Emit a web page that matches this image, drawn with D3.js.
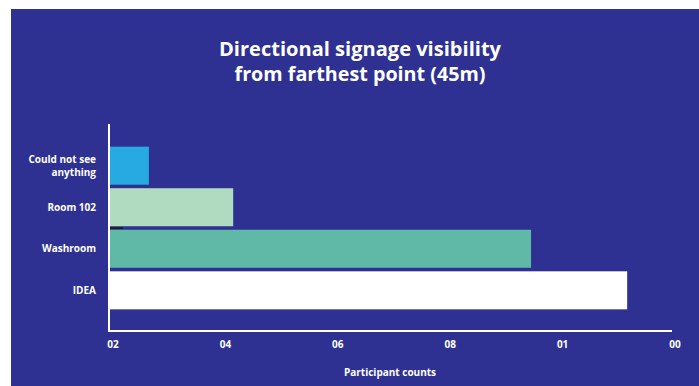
<!DOCTYPE html>
<html>
<head>
<meta charset="utf-8">
<script src="https://cdn.jsdelivr.net/npm/d3@7"></script>
<style>
  html, body { margin: 0; padding: 0; background: #ffffff; }
  svg { display: block; }
  text { font-family: "Open Sans", "Lato", sans-serif; font-weight: 700; fill: #ffffff; }
</style>
</head>
<body>
<svg id="chart" width="699" height="386"></svg>
<script>
// Survey answers, top to bottom
const categories = ["Could not see anything", "Room 102", "Washroom", "IDEA"];
const labelLines = [["Could not see", "anything"], ["Room 102"], ["Washroom"], ["IDEA"]];
const values = [7.1, 22.1, 75.1, 92.2];
const barColors = ["#27aae1", "#b1dbc0", "#60b9a6", "#ffffff"];
const tickValues = [0, 20, 40, 60, 80, 100];
const tickLabels = ["02", "04", "06", "08", "01", "00"];

const svg = d3.select("#chart");
const W = 699, H = 386;

// Panel background
svg.append("rect")
  .attr("x", 11).attr("y", 9)
  .attr("width", W - 11).attr("height", H - 9)
  .attr("fill", "#2e3192");

// Title, two lines
svg.append("text")
  .attr("x", 360).attr("y", 56)
  .attr("text-anchor", "middle")
  .style("font-size", "20px")
  .attr("textLength", 282).attr("lengthAdjust", "spacingAndGlyphs")
  .text("Directional signage visibility");
svg.append("text")
  .attr("x", 360).attr("y", 81)
  .attr("text-anchor", "middle")
  .style("font-size", "20px")
  .attr("textLength", 251).attr("lengthAdjust", "spacingAndGlyphs")
  .text("from farthest point (45m)");

const plotLeft = 109, plotRight = 671, plotTop = 145, plotBottom = 311;

const x = d3.scaleLinear().domain([0, 100]).range([plotLeft, plotRight]);
const y = d3.scaleBand().domain(categories).range([plotTop, plotBottom]).paddingInner(0.085).paddingOuter(0.04);

// Bars
svg.append("g").selectAll("rect")
  .data(categories)
  .join("rect")
  .attr("x", x(0))
  .attr("y", d => y(d))
  .attr("width", (d, i) => x(values[i]) - x(0))
  .attr("height", y.bandwidth())
  .attr("fill", (d, i) => barColors[i]);

// Small dark tick between Room 102 and Washroom
const gapY = (y("Room 102") + y.bandwidth() + y("Washroom")) / 2;
svg.append("line")
  .attr("x1", x(0)).attr("x2", x(0) + 14)
  .attr("y1", gapY).attr("y2", gapY)
  .attr("stroke", "#231f20").attr("stroke-width", 2);

// Axis lines
svg.append("line")
  .attr("x1", plotLeft).attr("x2", plotLeft)
  .attr("y1", 124).attr("y2", 331)
  .attr("stroke", "#ffffff").attr("stroke-width", 2);
svg.append("line")
  .attr("x1", plotLeft - 1).attr("x2", plotRight + 1)
  .attr("y1", 331).attr("y2", 331)
  .attr("stroke", "#ffffff").attr("stroke-width", 2);

// Bottom tick labels
const xAxis = d3.axisBottom(x)
  .tickValues(tickValues)
  .tickFormat((d, i) => tickLabels[i])
  .tickSize(0)
  .tickPadding(0);
const gx = svg.append("g")
  .attr("transform", "translate(3.5, 341)")
  .call(xAxis);
gx.select(".domain").remove();
gx.selectAll("text")
  .attr("dy", "0.71em")
  .style("font-size", "10px")
  .style("font-family", "'Open Sans', Lato, sans-serif")
  .style("font-weight", "700")
  .attr("fill", "#ffffff");

// Category labels
const gy = svg.append("g");
categories.forEach((c, i) => {
  const lines = labelLines[i];
  const cy = y(c) + y.bandwidth() / 2;
  const lh = 13;
  const t = gy.append("text")
    .attr("text-anchor", "end")
    .style("font-size", "10px");
  lines.forEach((ln, j) => {
    t.append("tspan")
      .attr("x", 96)
      .attr("y", cy + (j - (lines.length - 1) / 2) * lh)
      .attr("dy", "0.35em")
      .text(ln);
  });
});

// Axis title
svg.append("text")
  .attr("x", 390).attr("y", 376)
  .attr("text-anchor", "middle")
  .style("font-size", "10px")
  .text("Participant counts");
</script>
</body>
</html>
